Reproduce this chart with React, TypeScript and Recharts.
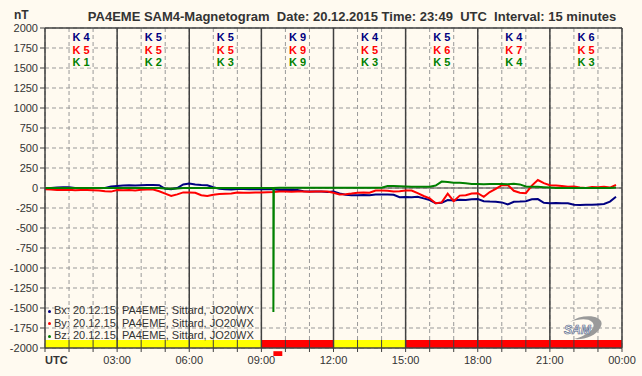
import {
  ComposedChart,
  Line,
  Scatter,
  XAxis,
  YAxis,
  CartesianGrid,
  ReferenceLine,
  ReferenceArea,
} from "recharts";

// quarter-hour readings, 00:00 .. 23:45 UTC (nT)
const bxValues = [
  0, 0, 5, 10, 10, 0, 0, 0, 0, 0, 0, 20,
  25, 30, 35, 30, 35, 38, 37, 35, -10, -15, 0, 45,
  55, 45, 38, 35, 10, -10, -15, -20, -12, -12, -15, -17,
  -17, -17, -17, -25, -25, -25, -25, -40, -45, -45, -45, -50,
  -45, -67, -85, -90, -92, -88, -90, -80, -82, -80, -85, -115,
  -112, -115, -110, -130, -150, -190, -185, -150, -155, -148, -150, -140,
  -138, -165, -170, -172, -180, -205, -172, -170, -165, -140, -138, -185,
  -190, -188, -192, -190, -210, -212, -208, -210, -205, -200, -170, -110,
];
const byValues = [
  -15, -20, -25, -25, -22, -28, -25, -25, -28, -30, -40, -45,
  -25, -28, -25, -30, -22, -20, -20, -40, -70, -100, -80, -55,
  -55, -60, -90, -100, -85, -75, -72, -70, -55, -58, -60, -55,
  -55, -52, -50, -45, -45, -48, -45, -45, -48, -45, -45, -45,
  -60, -80, -78, -70, -58, -55, -60, -32, -30, -35, -45, -42,
  -30, -32, -65, -100, -130, -190, -180, -70, -165, -95, -90, -70,
  -65, -110, -50, -10, 35, 37, -35, -60, -65, 30, 100, 60,
  35, 30, 25, 15, 18, 5, 0, 12, 10, 15, 5, 40,
];
const bzValues = [
  0, 0, 0, 0, 0, 0, 0, 0, 0, 0, 0, 0,
  0, 0, 0, 0, 0, 0, 0, 0, -5, -10, -5, 0,
  0, 0, 0, 0, 0, 0, 0, 0, 0, 0, 0, 0,
  0, 0, 0, 4, 4, 4, 4, 4, 4, 4, 4, 4,
  4, 4, 4, 4, 4, 4, 4, 4, 4, 25, 25, 22,
  20, 17, 17, 17, 17, 30, 80, 75, 67, 65, 60, 50,
  50, 48, 50, 50, 50, 48, 52, 45, 20, 17, 15, 10,
  5, 0, 0, 0, 0, 0, 0, 0, 0, 0, 0, 5,
];
// the short Bz spike around 09:30
const bzSpikeTimes = [9.48, 9.5, 9.52];
const bzSpikeValues = [0, -1550, 0];

// K indices per 3-hour block
const kBx = [4, 5, 5, 9, 4, 5, 4, 6];
const kBy = [5, 5, 5, 9, 5, 6, 7, 5];
const kBz = [1, 2, 3, 9, 3, 5, 4, 3];

// status strip along the bottom (hours from, to, colour)
const statusFrom = [0, 9, 12, 15];
const statusTo = [9, 12, 15, 24];
const statusColor = ["#ffff00", "#ff0000", "#ffff00", "#ff0000"];

const yTicks = [2000, 1750, 1500, 1250, 1000, 750, 500, 250, 0, -250, -500, -750, -1000, -1250, -1500, -1750, -2000];
const xTickLabels = ["UTC", "03:00", "06:00", "09:00", "12:00", "15:00", "18:00", "21:00", "00:00"];

const legendLabels = [
  "Bx: 20.12.15, PA4EME, Sittard, JO20WX",
  "By: 20.12.15, PA4EME, Sittard, JO20WX",
  "Bz: 20.12.15, PA4EME, Sittard, JO20WX",
];

const NAVY = "#000080";
const RED = "#ff0000";
const GREEN = "#008000";
const DARK = "#404040";
const BG = "#fffaf0";
const FONT = "'Liberation Sans', Arial, sans-serif";

const hours = Array.from({ length: 25 }, (_, i) => i);
const quarterTimes = bxValues.map((_, i) => i * 0.25);

const toSeries = (times: number[], values: number[]) =>
  times.map((t, i) => ({ t, v: values[i] }));

const bxData = toSeries(quarterTimes, bxValues);
const byData = toSeries(quarterTimes, byValues);
const bzData = [...toSeries(quarterTimes, bzValues), ...toSeries(bzSpikeTimes, bzSpikeValues)].sort(
  (a, b) => a.t - b.t
);

// rows of K labels sit near the top of the plot
const kRows = [
  { values: kBx, color: NAVY, level: 1885 },
  { values: kBy, color: RED, level: 1725 },
  { values: kBz, color: GREEN, level: 1570 },
];

function KLabel(props: any) {
  const { cx, cy, payload, fill } = props;
  if (cx == null || cy == null) return <g />;
  return (
    <g>
      <rect x={cx - 10} y={cy - 5} width={20} height={10} fill={BG} />
      <text
        x={cx}
        y={cy}
        dy="0.36em"
        textAnchor="middle"
        fontFamily={FONT}
        fontSize={11}
        fontWeight="bold"
        fill={fill}
      >
        {"K " + payload.k}
      </text>
    </g>
  );
}

function XTick(props: any) {
  const { x, y, payload } = props;
  const h = payload.value;
  if (h % 3 !== 0) return <g />;
  const label = xTickLabels[h / 3];
  const first = h === 0;
  return (
    <text
      x={x}
      y={y}
      dy="0.71em"
      textAnchor={first ? "start" : "middle"}
      fontFamily={FONT}
      fontSize={11}
      fontWeight={first ? "bold" : "normal"}
      fill="#333"
    >
      {label}
    </text>
  );
}

export default function App() {
  return (
    <div
      style={{
        position: "absolute",
        left: 0,
        top: 0,
        width: 642,
        height: 376,
        background: BG,
        fontFamily: FONT,
      }}
    >
      <ComposedChart
        width={642}
        height={376}
        margin={{ top: 28, right: 20, bottom: 0, left: 0 }}
      >
        <CartesianGrid stroke="#999" strokeDasharray="4 3" />
        <XAxis
          type="number"
          dataKey="t"
          domain={[0, 24]}
          ticks={hours}
          interval={0}
          height={28}
          tickSize={4}
          tickMargin={4}
          allowDataOverflow
          axisLine={{ stroke: DARK, strokeWidth: 1.5 }}
          tickLine={{ stroke: DARK }}
          tick={<XTick />}
        />
        <YAxis
          type="number"
          dataKey="v"
          domain={[-2000, 2000]}
          ticks={yTicks}
          interval={0}
          width={45}
          tickSize={5}
          allowDataOverflow
          axisLine={{ stroke: DARK, strokeWidth: 1.5 }}
          tickLine={{ stroke: DARK }}
          tick={{ fill: "#333", fontSize: 11, fontFamily: FONT }}
        />
        {statusFrom.map((from, i) => (
          <ReferenceArea
            key={"st" + i}
            x1={from}
            x2={statusTo[i]}
            y1={-2000}
            y2={-1900}
            fill={statusColor[i]}
            fillOpacity={1}
            stroke="none"
          />
        ))}
        <ReferenceArea
          x1={bzSpikeTimes[1]}
          x2={bzSpikeTimes[1] + 0.37}
          y1={-2040}
          y2={-2100}
          fill={RED}
          fillOpacity={1}
          stroke="none"
          ifOverflow="visible"
        />
        {hours
          .filter((h) => h % 3 !== 0)
          .map((h) => (
            <ReferenceLine
              key={"bt" + h}
              segment={[
                { x: h, y: -2000 },
                { x: h, y: -1900 },
              ]}
              stroke={DARK}
            />
          ))}
        {hours
          .filter((h) => h % 3 === 0 && h > 0)
          .map((h) => (
            <ReferenceLine key={"v" + h} x={h} stroke={DARK} strokeWidth={1.5} />
          ))}
        <ReferenceLine y={2000} stroke={DARK} strokeWidth={1.5} />
        <ReferenceLine y={0} stroke={DARK} />
        <Line
          data={bxData}
          dataKey="v"
          stroke={NAVY}
          strokeWidth={2}
          dot={false}
          isAnimationActive={false}
        />
        <Line
          data={byData}
          dataKey="v"
          stroke={RED}
          strokeWidth={2}
          dot={false}
          isAnimationActive={false}
        />
        <Line
          data={bzData}
          dataKey="v"
          stroke={GREEN}
          strokeWidth={2}
          dot={false}
          isAnimationActive={false}
        />
        {kRows.map((row, r) => (
          <Scatter
            key={"k" + r}
            data={row.values.map((k, i) => ({ t: i * 3 + 1.5, v: row.level, k }))}
            dataKey="v"
            fill={row.color}
            shape={<KLabel />}
            isAnimationActive={false}
          />
        ))}
      </ComposedChart>

      <div
        style={{
          position: "absolute",
          left: 14,
          top: 8,
          fontSize: 12,
          lineHeight: "14px",
          fontWeight: "bold",
          color: "#333",
        }}
      >
        nT
      </div>
      <div
        style={{
          position: "absolute",
          left: 52,
          width: 600,
          top: 9,
          textAlign: "center",
          fontSize: 13,
          lineHeight: "15px",
          fontWeight: "bold",
          color: "#333",
          whiteSpace: "pre",
        }}
      >
        {"PA4EME SAM4-Magnetogram  Date: 20.12.2015 Time: 23:49  UTC  Interval: 15 minutes"}
      </div>

      {legendLabels.map((label, i) => (
        <div
          key={label}
          style={{
            position: "absolute",
            left: 48,
            top: 304 + i * 12.5,
            fontSize: 11,
            color: "#333",
            whiteSpace: "pre",
            lineHeight: "12px",
          }}
        >
          <span
            style={{
              display: "inline-block",
              width: 3,
              height: 3,
              borderRadius: 2,
              background: [NAVY, RED, GREEN][i],
              marginRight: 3,
              verticalAlign: "middle",
            }}
          />
          {label}
        </div>
      ))}

      <svg
        style={{ position: "absolute", left: 560, top: 314 }}
        width={48}
        height={28}
      >
        <path
          d="M10 8 C 24 -2, 48 2, 40 14 C 36 22, 24 26, 14 25 C 26 22, 38 14, 32 8 C 28 4, 18 5, 10 8 Z"
          fill="#9a9a9a"
        />
        <text
          x={4}
          y={20}
          fontFamily={FONT}
          fontSize={12}
          fontStyle="italic"
          fontWeight="bold"
          fill="#e8e8ee"
          stroke="#556688"
          strokeWidth={0.6}
        >
          SAM
        </text>
      </svg>
    </div>
  );
}
